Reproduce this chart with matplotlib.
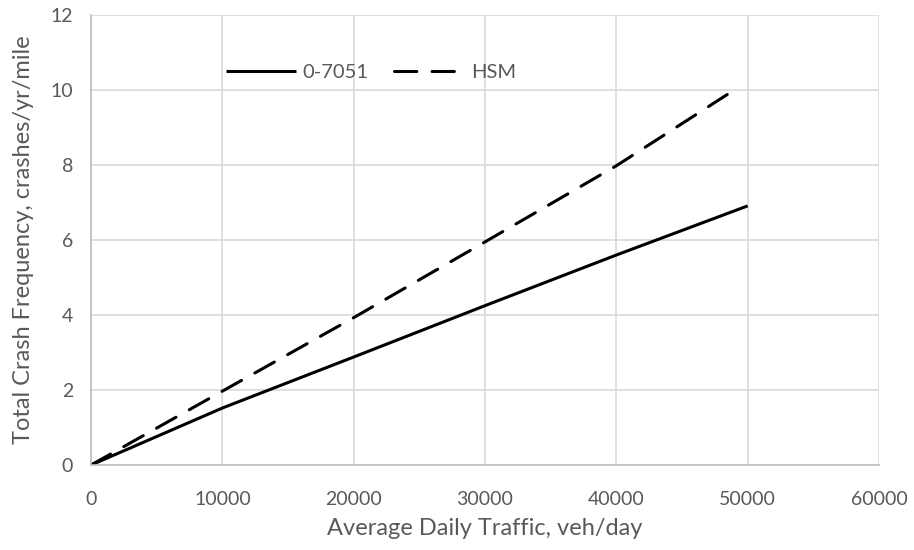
import matplotlib.pyplot as plt

plt.rcParams['font.family'] = ['Lato', 'DejaVu Sans']

# values
adt_7051 = [0, 10000, 20000, 30000, 40000, 50000]
crash_7051 = [0, 1.52, 2.88, 4.25, 5.60, 6.91]
adt_hsm = [0, 10000, 20000, 30000, 40000, 49200]
crash_hsm = [0, 1.97, 3.93, 5.95, 7.98, 10.05]

x_ticks = [0, 10000, 20000, 30000, 40000, 50000, 60000]
y_ticks = [0, 2, 4, 6, 8, 10, 12]

grey_text = '#595959'
grid_col = '#d9d9d9'

fig = plt.figure(figsize=(9.14, 5.5), dpi=100)
ax = fig.add_axes([0.0996, 0.1545, 0.8621, 0.8182])

ax.plot(adt_7051, crash_7051, color='black', lw=2.2, solid_capstyle='butt', label='0-7051')
ax.plot(adt_hsm, crash_hsm, color='black', lw=2.2, dashes=(7.3, 5),
        dash_capstyle='round', label='HSM')

ax.set_xlim(0, 60000)
ax.set_ylim(0, 12)
ax.set_xticks(x_ticks)
ax.set_yticks(y_ticks)
ax.grid(True, color=grid_col, lw=1.2)
ax.set_axisbelow(True)
for side in ['top', 'right']:
    ax.spines[side].set_visible(False)
for side in ['left', 'bottom']:
    ax.spines[side].set_color('#bfbfbf')
    ax.spines[side].set_linewidth(1.2)
ax.tick_params(axis='both', length=0, labelsize=14, labelcolor=grey_text)
ax.tick_params(axis='x', pad=19)
ax.tick_params(axis='y', pad=13)

ax.set_xlabel('Average Daily Traffic, veh/day', fontsize=17, color=grey_text, labelpad=7)
ax.set_ylabel('Total Crash Frequency, crashes/yr/mile', fontsize=17, color=grey_text, labelpad=12)

leg = ax.legend(loc='center', bbox_to_anchor=(0.355, 0.873), ncol=2, frameon=False,
                fontsize=14.5, handlelength=3.5, handletextpad=0.3, columnspacing=1.3)
for t in leg.get_texts():
    t.set_color(grey_text)

fig.savefig('out.png', dpi=100)
